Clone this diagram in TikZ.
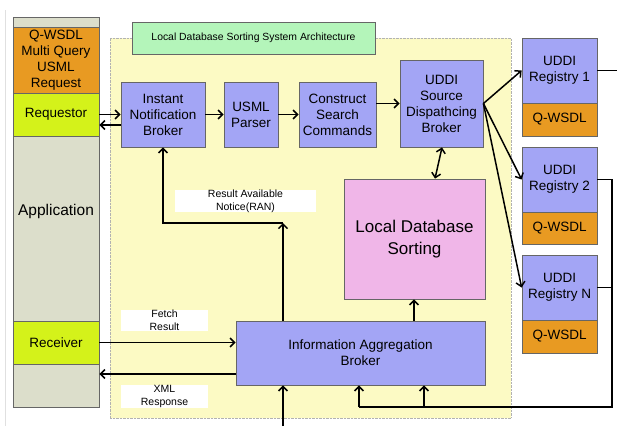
\documentclass[tikz,border=0pt]{standalone}
\usepackage{fontspec}
\setmainfont{Liberation Sans}
\usetikzlibrary{arrows.meta,calc}
\definecolor{appgray}{HTML}{DCDECB}
\definecolor{qorange}{HTML}{E89A22}
\definecolor{reqgreen}{HTML}{D4F21A}
\definecolor{boxblue}{HTML}{A3A5F5}
\definecolor{boxpink}{HTML}{F0B6E8}
\definecolor{bgyellow}{HTML}{FCFAC4}
\definecolor{titlegreen}{HTML}{B4F5BA}
\definecolor{edgegray}{HTML}{666666}
\tikzset{
  base/.style={draw=edgegray, line width=0.8pt, inner sep=0pt, align=center, font=\fontsize{13.5}{16}\selectfont},
  bluebox/.style={base, fill=boxblue},
  orangebox/.style={base, fill=qorange},
  greenbox/.style={base, fill=reqgreen},
  lbl/.style={fill=white, inner sep=0pt, align=center, font=\fontsize{10.5}{13}\selectfont},
  arr/.style={line width=1.5pt, -{Straight Barb[length=4.5pt,width=9pt]}},
  darr/.style={line width=1.5pt, {Straight Barb[length=4.5pt,width=9pt]}-{Straight Barb[length=4.5pt,width=9pt]}},
  ln/.style={line width=1.5pt}
}
\begin{document}
\begin{tikzpicture}[x=1pt,y=-1pt]
\useasboundingbox[fill=white] (0,0) rectangle (617,426);
% faint page edge
\draw[black!12, line width=0.6pt] (5,10) -- (5,426);
% yellow background
\node[draw=gray!60, densely dotted, fill=bgyellow, minimum width=401pt, minimum height=380pt, inner sep=0pt] (bg) at (310.5,228) {};
% title
\node[base, fill=titlegreen, minimum width=243pt, minimum height=32pt, font=\fontsize{10.4}{12}\selectfont] (title) at (253.5,38) {Local Database Sorting System Architecture};
% application column
\node[base, fill=appgray, minimum width=86pt, minimum height=390pt] (app) at (56,212) {};
\node[inner sep=0pt, font=\fontsize{15.5}{18}\selectfont] (apptext) at (56,211) {Application};
\node[orangebox, minimum width=86pt, minimum height=66pt] (qreq) at (56,60) {Q-WSDL\\Multi Query\\USML\\Request};
\node[greenbox, minimum width=86pt, minimum height=43pt] (req) at (56,114.5) {Requestor};
\node[greenbox, minimum width=86pt, minimum height=43pt] (rec) at (56,342.5) {Receiver};
% main boxes
\node[bluebox, minimum width=84pt, minimum height=65pt] (inb) at (163,114.5) {Instant\\Notification\\Broker};
\node[bluebox, minimum width=54pt, minimum height=65pt] (usml) at (251,114.5) {USML\\Parser};
\node[bluebox, minimum width=77pt, minimum height=65pt] (csc) at (337.5,114.5) {Construct\\Search\\Commands};
\node[bluebox, minimum width=83pt, minimum height=87pt] (uds) at (441.5,103.5) {UDDI\\Source\\Dispathcing\\Broker};
\node[base, fill=boxpink, minimum width=141pt, minimum height=120pt, font=\fontsize{17}{22}\selectfont] (lds) at (414.5,239) {Local Database\\Sorting};
\node[bluebox, minimum width=249pt, minimum height=64pt] (iab) at (360.5,353) {Information Aggregation\\Broker};
% registries
\node[bluebox, minimum width=75pt, minimum height=65pt] (reg1) at (559.5,70.5) {UDDI\\Registry 1};
\node[orangebox, minimum width=75pt, minimum height=33pt] (qw1) at (559.5,119.5) {Q-WSDL};
\node[bluebox, minimum width=75pt, minimum height=65pt] (reg2) at (559.5,179.5) {UDDI\\Registry 2};
\node[orangebox, minimum width=75pt, minimum height=32pt] (qw2) at (559.5,228) {Q-WSDL};
\node[bluebox, minimum width=75pt, minimum height=65pt] (regn) at (559.5,287.5) {UDDI\\Registry N};
\node[orangebox, minimum width=75pt, minimum height=33pt] (qwn) at (559.5,336.5) {Q-WSDL};
% labels
\node[lbl, minimum width=141pt, minimum height=22pt] (ran) at (245.5,201) {Result Available\\Notice(RAN)};
\node[lbl, minimum width=87pt, minimum height=21pt] (fetch) at (164.5,320.5) {Fetch\\Result};
\node[lbl, minimum width=87pt, minimum height=21pt] (xml) at (164.5,396.5) {XML\\Response};
% coordinates
\coordinate (c1out) at (617,70.5);
\coordinate (rx) at (612,179.5);
\coordinate (rbot) at (612,407);
\coordinate (ranc) at (283,223);
\coordinate (bottomin) at (283,426);
\coordinate (fa) at (359,407);
\coordinate (fb) at (424,407);
% connectors
\draw[arr] (req.east) -- (inb.west);
\draw[arr] (inb.west |- 0,125) -- (app.east |- 0,125);
\draw[arr] (inb.east) -- (usml.west);
\draw[arr] (usml.east) -- (csc.west);
\draw[arr] (csc.east |- uds.west) -- (uds.west);
\draw[darr] ([xshift=0.5pt]uds.south) -- ([xshift=20.5pt]lds.north);
\draw[arr] (uds.east) -- (reg1.west);
\draw[arr] (uds.east) -- (reg2.west);
\draw[arr] (uds.east) -- (regn.west);
\draw[ln] (reg1.east) -- (c1out);
\draw[ln] (reg2.east) -- (rx) -- (rbot) -- (fa);
\draw[ln] (regn.east) -- (rx |- regn.east);
\draw[arr] (fa) -- (iab.south -| fa);
\draw[arr] (fb) -- (iab.south -| fb);
\draw[arr] (iab.north -| ranc) -- (ranc);
\draw[arr] (ranc) -- (ranc -| inb.south) -- (inb.south);
\draw[arr] (bottomin) -- (iab.south -| bottomin);
\draw[arr] ([xshift=53.5pt]iab.north) -- ([xshift=-0.5pt]lds.south);
\draw[arr] (rec.east) -- (iab.west |- rec.east);
\draw[arr] (iab.west |- 0,374) -- (app.east |- 0,374);
\end{tikzpicture}
\end{document}
